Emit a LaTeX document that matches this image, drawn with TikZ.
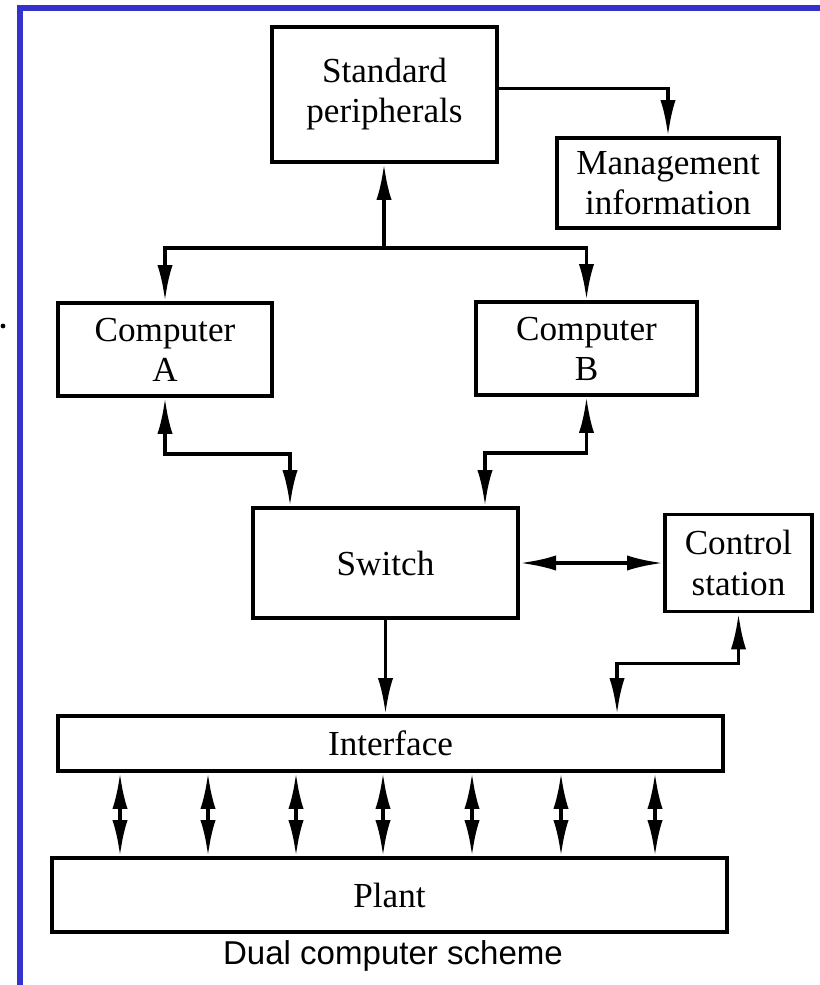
\documentclass[tikz,border=0pt]{standalone}
\usepackage{fontspec}
\setmainfont{Liberation Serif}
\newfontfamily\captionfont{Liberation Sans}
\usetikzlibrary{arrows.meta}
\definecolor{frameblue}{RGB}{51,51,204}
\tikzset{
    unit-box/.style = {draw, line width=2.8pt, rectangle, align=center, inner sep=0pt, font=\fontsize{25}{28.5}\selectfont},
    link/.style = {line width=2.6pt, -{Latex[length=0.9cm,width=0.38cm]}},
    dual-link/.style = {line width=2.6pt, {Latex[length=0.9cm,width=0.38cm]}-{Latex[length=0.9cm,width=0.38cm]}},
}

\begin{document}
\begin{tikzpicture}[x=0.025cm, y=-0.025cm]
\useasboundingbox (0,0) rectangle (820,985);
% frame
\fill[frameblue] (17,5) rectangle (820,11);
\fill[frameblue] (17,5) rectangle (23,985);
\fill (3,326) circle[radius=0.06cm];

\node[unit-box, minimum width=5.625cm, minimum height=3.375cm] (SP) at (384.5,94.5) {Standard\\peripherals};
\node[unit-box, minimum width=5.55cm, minimum height=2.25cm] (MI) at (668,183) {Management\\information};
\node[unit-box, minimum width=5.35cm, minimum height=2.325cm] (A) at (165,349.5) {Computer\\A};
\node[unit-box, minimum width=5.525cm, minimum height=2.325cm] (B) at (586.5,348.5) {Computer\\B};
\node[unit-box, minimum width=6.625cm, minimum height=2.75cm] (Switch) at (385.5,563) {Switch};
\node[unit-box, minimum width=3.675cm, minimum height=2.425cm] (Control) at (738.5,563) {Control\\station};
\node[unit-box, minimum width=16.625cm, minimum height=1.375cm] (Interface) at (390.5,743.5) {Interface};
\node[unit-box, minimum width=16.875cm, minimum height=1.85cm] (Plant) at (389.5,895) {Plant};
\node[font=\captionfont\fontsize{23.5}{26}\selectfont] (caption) at (393,956) {Dual computer scheme};

% connections
\draw[link] ([yshift=0.15cm]SP.east) -| (MI.north);
\coordinate (bus) at (384,248);
\draw[link] (bus) -- (bus |- SP.south);
\draw[link] (bus) -| (A.north);
\draw[link] (bus) -| (B.north);
\draw[dual-link] (A.south) -- ++(0,-1.4cm) -| ([xshift=0.975cm]Switch.north west);
\draw[dual-link] (B.south) -- ++(0,-1.4cm) -| ([xshift=-0.875cm]Switch.north east);
\draw[dual-link] (Switch.east) -- (Control.west);
\draw[link] (Switch.south) -- (Switch.south |- Interface.north);
\draw[dual-link] (Control.south) -- ++(0,-1.25cm) -| ([xshift=-2.7cm]Interface.north east);
\foreach \x in {120,208,296,383,472,561,655}
    \draw[dual-link] (\x,0 |- Interface.south) -- (\x,0 |- Plant.north);
\end{tikzpicture}
\end{document}
